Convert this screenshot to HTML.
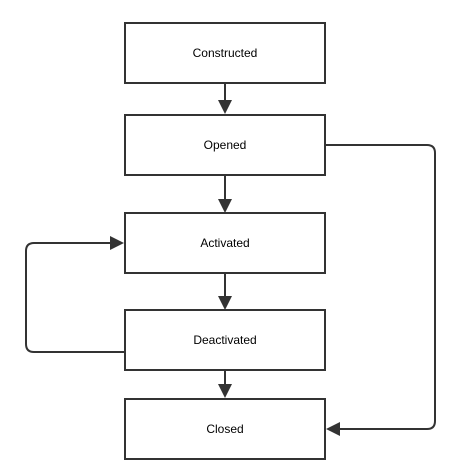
<!DOCTYPE html>
<html><head><style>
html,body{margin:0;padding:0;background:#fff;width:453px;height:470px;overflow:hidden}
text{font-family:"Liberation Sans",sans-serif;font-size:12px;fill:#000}
</style></head><body>
<svg width="453" height="470" viewBox="0 0 453 470" xmlns="http://www.w3.org/2000/svg">
<g fill="#fff" stroke="#333" stroke-width="2">
<rect x="125" y="23" width="200" height="60"/>
<rect x="125" y="115" width="200" height="60"/>
<rect x="125" y="213" width="200" height="60"/>
<rect x="125" y="310" width="200" height="60"/>
<rect x="125" y="399" width="200" height="60"/>
</g>
<g fill="none" stroke="#333" stroke-width="2">
<path d="M225 83V102"/>
<path d="M225 175V200"/>
<path d="M225 273V297"/>
<path d="M225 370V385"/>
<path d="M325 145H427Q435 145 435 153V421Q435 429 427 429H338"/>
<path d="M125 352H34Q26 352 26 344V251Q26 243 34 243H112"/>
</g>
<g fill="#333">
<path d="M218 100H232L225 114Z"/>
<path d="M218 199H232L225 213Z"/>
<path d="M218 296H232L225 310Z"/>
<path d="M218 384H232L225 398Z"/>
<path d="M340 422V436L326 429Z"/>
<path d="M110 236V250L124 243Z"/>
</g>
<g text-anchor="middle">
<text x="225" y="57">Constructed</text>
<text x="225" y="149">Opened</text>
<text x="225" y="247">Activated</text>
<text x="225" y="344">Deactivated</text>
<text x="225" y="433">Closed</text>
</g>
</svg>
</body></html>
